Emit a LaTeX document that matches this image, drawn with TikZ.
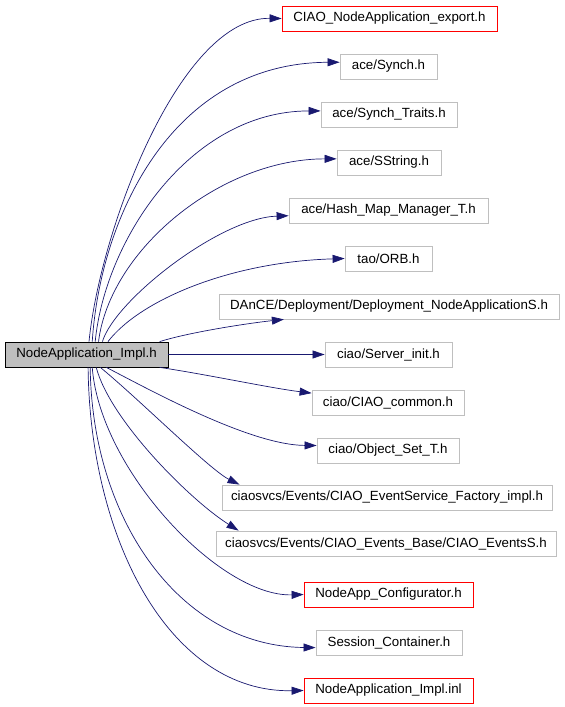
\documentclass[tikz,border=0pt]{standalone}
\usepackage{fontspec}
\setmainfont{Liberation Sans}
\usetikzlibrary{arrows.meta}

\definecolor{edgeblue}{HTML}{191970}
\definecolor{boxgrey}{HTML}{BFBFBF}

\begin{document}
\begin{tikzpicture}[x=1pt,y=-1pt,
   every node/.style={draw,rectangle,inner sep=0pt,minimum height=25pt,
                      font=\fontsize{13.3}{15}\selectfont,line width=0.8pt},
   hfile/.style={draw=boxgrey,fill=white},
   hred/.style={draw=red,fill=white},
   hmain/.style={draw=black,fill=boxgrey},
   inc/.style={draw=edgeblue,line width=0.7pt,
               -{Triangle[length=12pt,width=8pt]}}]

\useasboundingbox (0,0) rectangle (565,707);

\node[hmain,minimum width=163pt] (src) at (86.5,354.5) {NodeApplication\_Impl.h};

\node[hred, minimum width=215pt] (exp)    at (389.5,18.5)  {CIAO\_NodeApplication\_export.h};
\node[hfile,minimum width=97pt]  (synch)  at (388.5,66.5)  {ace/Synch.h};
\node[hfile,minimum width=136pt] (traits) at (389,114.5)   {ace/Synch\_Traits.h};
\node[hfile,minimum width=104pt] (sstr)   at (389,162.5)   {ace/SString.h};
\node[hfile,minimum width=199pt] (hash)   at (388.5,210.5) {ace/Hash\_Map\_Manager\_T.h};
\node[hfile,minimum width=87pt]  (orb)    at (388.5,258.5) {tao/ORB.h};
\node[hfile,minimum width=340pt] (dance)  at (389,306.5)   {DAnCE/Deployment/Deployment\_NodeApplicationS.h};
\node[hfile,minimum width=127pt] (srv)    at (388.5,354.5) {ciao/Server\_init.h};
\node[hfile,minimum width=152pt] (common) at (388,402.5)   {ciao/CIAO\_common.h};
\node[hfile,minimum width=142pt] (objset) at (388,450.5)   {ciao/Object\_Set\_T.h};
\node[hfile,minimum width=330pt] (evfac)  at (387,497.5)   {ciaosvcs/Events/CIAO\_EventService\_Factory\_impl.h};
\node[hfile,minimum width=340pt] (evs)    at (386,543.5)   {ciaosvcs/Events/CIAO\_Events\_Base/CIAO\_EventsS.h};
\node[hred, minimum width=169pt] (conf)   at (388.5,594.5) {NodeApp\_Configurator.h};
\node[hfile,minimum width=146pt] (sess)   at (389,642.5)   {Session\_Container.h};
\node[hred, minimum width=169pt] (inl)    at (388.5,690.5) {NodeApplication\_Impl.inl};

% includes going up
\draw[inc] (src.79) .. controls (100,230) and (180,17) .. (exp.west);
\draw[inc] (src.66) .. controls (100,220) and (170,63) .. (synch.175);
\draw[inc] (src.56) .. controls (105,240) and (190,111) .. (traits.177);
\draw[inc] (src.47) .. controls (110,250) and (220,159) .. (sstr.176);
\draw[inc] (src.39) .. controls (115,300) and (220,218) .. (hash.183);
\draw[inc] (src.31) .. controls (140,300) and (230,262) .. (orb.west);
\draw[inc] (src.10) .. controls (190,332) and (250,323) .. (dance.187);

\draw[inc] (src.east) -- (srv.west);

% includes going down
\draw[inc] (src.-10) .. controls (210,375) and (270,388) .. (common.173);
\draw[inc] (src.-33) .. controls (150,390) and (250,445) .. (objset.176);
\draw[inc] (src.-43) .. controls (140,400) and (210,470) .. (evfac.175);
\draw[inc] (src.-53) .. controls (110,420) and (190,500) .. (evs.175);
\draw[inc] (src.-66) .. controls (100,470) and (220,597) .. (conf.west);
\draw[inc] (src.-74) .. controls (92,520) and (180,646) .. (sess.184);
\draw[inc] (src.-83) .. controls (90,540) and (170,693) .. (inl.west);

\end{tikzpicture}
\end{document}
